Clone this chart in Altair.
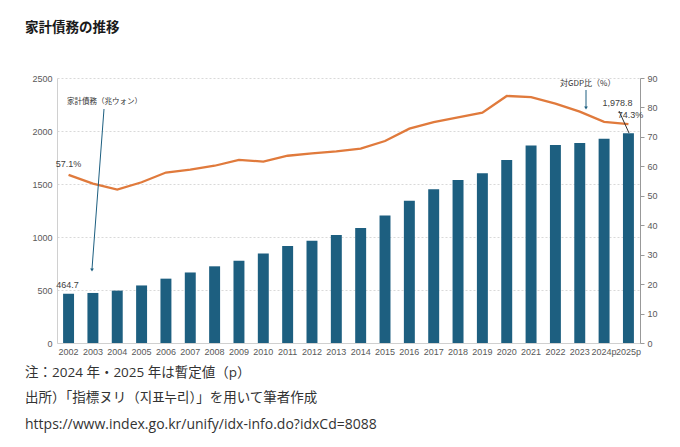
import altair as alt
import pandas as pd

years = ["2002", "2003", "2004", "2005", "2006", "2007", "2008", "2009", "2010",
         "2011", "2012", "2013", "2014", "2015", "2016", "2017", "2018", "2019",
         "2020", "2021", "2022", "2023", "2024p", "2025p"]
debt = [464.7, 472.1, 494.2, 542.9, 607.0, 665.3, 723.5, 776.0, 843.2,
        916.2, 963.8, 1019.0, 1085.3, 1203.1, 1342.5, 1450.8, 1536.7, 1600.3,
        1726.1, 1862.9, 1867.6, 1886.4, 1927.3, 1978.8]
gdp_ratio = [57.1, 54.1, 52.1, 54.6, 57.9, 58.9, 60.2, 62.2, 61.6,
             63.6, 64.4, 65.1, 66.0, 68.6, 72.8, 75.0, 76.6, 78.2,
             83.9, 83.5, 81.3, 78.6, 75.1, 74.3]

title_text = "家計債務の推移"
notes = ["注：2024 年・2025 年は暫定値（p）",
         "出所）「指標ヌリ（지표누리）」を用いて筆者作成",
         "https://www.index.go.kr/unify/idx-info.do?idxCd=8088"]

df = pd.DataFrame({"year": years, "debt": debt, "ratio": gdp_ratio})
df["debt_label"] = ["464.7"] + [""] * 22 + ["1,978.8"]
df["ratio_label"] = ["57.1%"] + [""] * 22 + ["74.3%"]

W, H = 583, 265
BAR = "#1d5f80"
LINE = "#e07a3c"
FONT = "Liberation Sans"
JP = "Noto Sans CJK JP"
NOTE_FONT = "Open Sans, Noto Sans CJK JP"

x_axis = alt.Axis(labelAngle=0, labelFontSize=9, labelColor="#595959",
                  labelFont=FONT, ticks=False, domainColor="#d0d0d0",
                  labelPadding=4, labelOverlap=False)
x_scale = alt.Scale(paddingInner=0.55, paddingOuter=0.25)


def xenc():
    return alt.X("year:N", sort=years, title=None, scale=x_scale, axis=x_axis)


left_axis = alt.Axis(values=[0, 500, 1000, 1500, 2000, 2500], grid=True,
                     format="d", gridDash=[2, 2], gridColor="#d9d9d9",
                     domainColor="#d0d0d0", ticks=False, labelFontSize=9,
                     labelColor="#595959", labelFont=FONT, labelPadding=5,
                     labelOverlap=False)
left_scale = alt.Scale(domain=[0, 2500], nice=False)

right_axis = alt.Axis(orient="right", values=list(range(0, 100, 10)),
                      format="d", grid=False, ticks=True, tickSize=4,
                      tickColor="#999999", domainColor="#999999",
                      labelFontSize=9, labelColor="#595959", labelFont=FONT,
                      labelPadding=3, labelOverlap=False)
right_scale = alt.Scale(domain=[0, 90], nice=False)

base = alt.Chart(df)

bars = base.mark_bar(color=BAR).encode(
    x=xenc(),
    y=alt.Y("debt:Q", title=None, scale=left_scale, axis=left_axis),
)
first_debt = base.transform_filter(alt.datum.year == "2002").mark_text(
    fontSize=9, font=FONT, color="#404040", dy=-9, dx=-1).encode(
    x=xenc(), y=alt.Y("debt:Q", title=None, scale=left_scale, axis=left_axis),
    text="debt_label:N")
last_debt = base.transform_filter(alt.datum.year == "2025p").mark_text(
    fontSize=9, font=FONT, color="#404040", dy=-30, dx=-11).encode(
    x=xenc(), y=alt.Y("debt:Q", title=None, scale=left_scale, axis=left_axis),
    text="debt_label:N")

bar_group = alt.layer(bars, first_debt, last_debt)

line = base.mark_line(color=LINE, strokeWidth=2.3).encode(
    x=xenc(),
    y=alt.Y("ratio:Q", title=None, scale=right_scale, axis=right_axis),
)
first_ratio = base.transform_filter(alt.datum.year == "2002").mark_text(
    fontSize=9, font=FONT, color="#404040", dy=-11, dx=0).encode(
    x=xenc(), y=alt.Y("ratio:Q", title=None, scale=right_scale, axis=right_axis),
    text="ratio_label:N")
last_ratio = base.transform_filter(alt.datum.year == "2025p").mark_text(
    fontSize=9, font=FONT, color="#404040", dy=-9, dx=2).encode(
    x=xenc(), y=alt.Y("ratio:Q", title=None, scale=right_scale, axis=right_axis),
    text="ratio_label:N")

line_group = alt.layer(line, first_ratio, last_ratio)

one = pd.DataFrame({"a": [0]})
ann = alt.Chart(one)

debt_note = ann.mark_text(text="家計債務（兆ウォン）", font=JP, fontSize=7.5,
                          color="#333333", align="left").encode(
    x=alt.value(10), y=alt.value(24))
debt_arrow = ann.mark_rule(color=BAR, strokeWidth=1).encode(
    x=alt.value(47), y=alt.value(31), x2=alt.value(35), y2=alt.value(191))
debt_head = ann.mark_point(shape="triangle-down", filled=True, color=BAR,
                           size=14, opacity=1).encode(
    x=alt.value(35), y=alt.value(192))

gdp_note = ann.mark_text(text="対GDP比（%）", font=JP, fontSize=8,
                         color="#333333", align="left").encode(
    x=alt.value(503), y=alt.value(6))
gdp_arrow = ann.mark_rule(color=BAR, strokeWidth=1).encode(
    x=alt.value(529), y=alt.value(12), x2=alt.value(529), y2=alt.value(29))
gdp_head = ann.mark_point(shape="triangle-down", filled=True, color=BAR,
                          size=14, opacity=1).encode(
    x=alt.value(529), y=alt.value(30))
last_arrow = ann.mark_rule(color="#333333", strokeWidth=1).encode(
    x=alt.value(562), y=alt.value(33), x2=alt.value(572), y2=alt.value(55))

title_mark = ann.mark_text(text=title_text, font=JP, fontSize=13.5,
                           fontWeight="bold", color="#1a1a1a", align="left",
                           baseline="middle").encode(
    x=alt.value(-32), y=alt.value(-50))
note_marks = [
    ann.mark_text(text=t, font=NOTE_FONT, fontSize=fs, color="#333333",
                  align="left", baseline="middle").encode(
        x=alt.value(-32), y=alt.value(yy))
    for t, yy, fs in zip(notes, [295, 320, 347], [13.5, 13.5, 14])
]

annotations = alt.layer(debt_note, debt_arrow, debt_head, gdp_note, gdp_arrow,
                        gdp_head, last_arrow, title_mark, *note_marks)

chart = alt.layer(bar_group, line_group, annotations).resolve_scale(
    y="independent"
).properties(
    width=W, height=H,
    autosize=alt.AutoSizeParams(type="none"),
    padding={"left": 49, "top": 70, "right": 30, "bottom": 96},
    background="white",
).configure_view(stroke=None)

chart.save("out.html", embed_options={"renderer": "svg", "actions": False})
